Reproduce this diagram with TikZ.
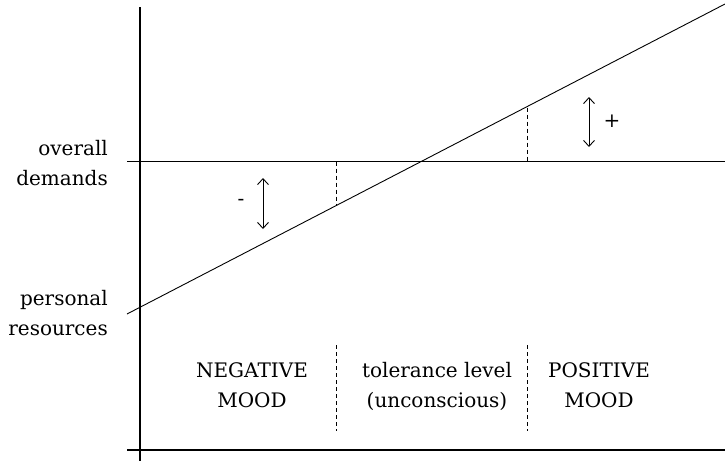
\documentclass[tikz,border=0pt]{standalone}
\usepackage{fontspec}
\setmainfont{DejaVu Serif}
\usetikzlibrary{arrows.meta}
\tikzset{
  axis/.style={line width=1.4pt},
  thinline/.style={line width=0.9pt},
  dashline/.style={line width=0.9pt, dash pattern=on 4pt off 3pt},
  gaparrow/.style={line width=0.9pt, {Straight Barb[length=6pt,width=11pt]}-{Straight Barb[length=6pt,width=11pt]}},
  lbl/.style={inner sep=0pt, font=\fontsize{20}{29.5}\selectfont},
}
\begin{document}
\begin{tikzpicture}[x=1pt,y=-1pt]
\useasboundingbox (0,0) rectangle (725,461);
% axes
\coordinate (vtop) at (140,7);
\coordinate (vbot) at (140,461);
\coordinate (hl) at (127,450);
\coordinate (hr) at (725,450);
\draw[axis] (vtop) -- (vbot);
\draw[axis] (hl) -- (hr);
% demands line
\coordinate (dl) at (127,161.5);
\coordinate (dr) at (725,161.5);
\draw[thinline] (dl) -- (dr);
% resources line
\coordinate (rl) at (127,314);
\coordinate (rr) at (725,4);
\draw[thinline] (rl) -- (rr);
% dashed gap markers
\coordinate (g1a) at (336,161.5);
\coordinate (g1b) at (336,205.5);
\coordinate (g2a) at (527,107.5);
\coordinate (g2b) at (527,161.5);
\draw[dashline] (g1a) -- (g1b);
\draw[dashline] (g2a) -- (g2b);
% region separators
\coordinate (s1a) at (336,345);
\coordinate (s1b) at (336,431);
\coordinate (s2a) at (527,345);
\coordinate (s2b) at (527,431);
\draw[dashline] (s1a) -- (s1b);
\draw[dashline] (s2a) -- (s2b);
% arrows
\coordinate (a1t) at (263,178);
\coordinate (a1b) at (263,229);
\coordinate (a2t) at (589,97);
\coordinate (a2b) at (589,147);
\draw[gaparrow] (a1t) -- (a1b);
\draw[gaparrow] (a2t) -- (a2b);
\node[lbl] (minus) at (241,202) {-};
\node[lbl] (plus) at (612,121) {+};
% labels (base anchor = baseline of the last line)
\node[lbl, align=right, anchor=base east] (od) at (108,185) {overall\\demands};
\node[lbl, align=right, anchor=base east] (pr) at (108,335) {personal\\resources};
\node[lbl, align=center, anchor=base] (neg) at (252,407) {NEGATIVE\\MOOD};
\node[lbl, align=center, anchor=base] (tol) at (437,407) {tolerance level\\(unconscious)};
\node[lbl, align=center, anchor=base] (pos) at (599,407) {POSITIVE\\MOOD};
\end{tikzpicture}
\end{document}
